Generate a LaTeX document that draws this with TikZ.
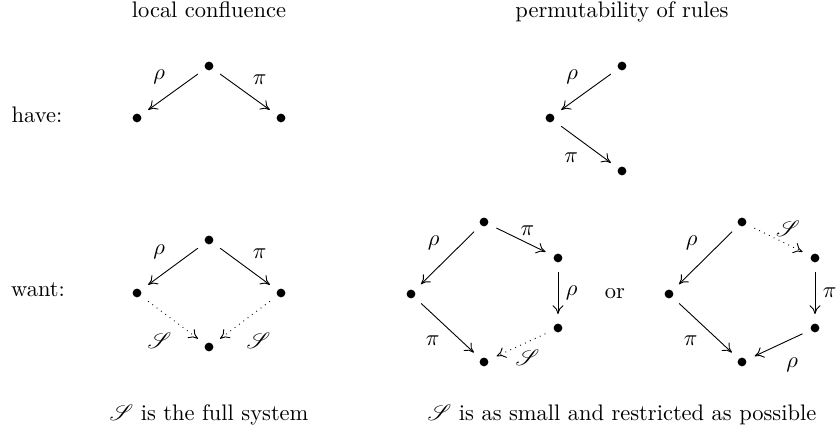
\documentclass[tikz,border=0pt]{standalone}
\usepackage{mathrsfs}
\usetikzlibrary{arrows.meta}

\tikzset{dot/.style={circle,fill=black,inner sep=0pt,minimum size=3.9pt},
  rule/.style={-{To[length=4pt,width=5pt]},shorten <=4pt,shorten >=4pt},
  sys/.style={rule,dotted}}

\begin{document}
\begin{tikzpicture}[x=0.445pt,y=-0.445pt]
\useasboundingbox (0,0) rectangle (836,432);

% headings
\node[anchor=base] (hLC) at (209,18) {local confluence};
\node[anchor=base] (hPR) at (622,18) {permutability of rules};
\node[anchor=base] (have) at (37,123) {have:};
\node[anchor=base] (want) at (38,297) {want:};

% have: local confluence
\node[dot] (a0) at (209,66) {};
\node[dot] (a1) at (137,118) {};
\node[dot] (a2) at (281,118) {};
\draw[rule] (a0) -- node[above left] {$\rho$} (a1);
\draw[rule] (a0) -- node[above right] {$\pi$} (a2);

% have: permutability
\node[dot] (b0) at (622,66) {};
\node[dot] (b1) at (550,118) {};
\node[dot] (b2) at (622,171) {};
\draw[rule] (b0) -- node[above left] {$\rho$} (b1);
\draw[rule] (b1) -- node[below left] {$\pi$} (b2);

% want: local confluence
\node[dot] (c0) at (209,240) {};
\node[dot] (c1) at (137,293) {};
\node[dot] (c2) at (281,293) {};
\node[dot] (c3) at (209,347) {};
\draw[rule] (c0) -- node[above left] {$\rho$} (c1);
\draw[rule] (c0) -- node[above right] {$\pi$} (c2);
\draw[sys] (c1) -- node[below left,pos=0.6] {$\mathscr{S}$} (c3);
\draw[sys] (c2) -- node[below right,pos=0.6] {$\mathscr{S}$} (c3);

% want: permutability, first
\node[dot] (d0) at (484,222) {};
\node[dot] (d1) at (411,294) {};
\node[dot] (d2) at (558,258) {};
\node[dot] (d3) at (558,328) {};
\node[dot] (d4) at (484,362) {};
\draw[rule] (d0) -- node[above left] {$\rho$} (d1);
\draw[rule] (d0) -- node[above,pos=0.6] {$\pi$} (d2);
\draw[rule] (d2) -- node[right] {$\rho$} (d3);
\draw[rule] (d1) -- node[below left] {$\pi$} (d4);
\draw[sys] (d3) -- node[below,pos=0.4] {$\mathscr{S}$} (d4);

\node[anchor=base] (or) at (615,299) {or};

% want: permutability, second
\node[dot] (e0) at (742,222) {};
\node[dot] (e1) at (669,294) {};
\node[dot] (e2) at (815,258) {};
\node[dot] (e3) at (815,328) {};
\node[dot] (e4) at (742,362) {};
\draw[rule] (e0) -- node[above left] {$\rho$} (e1);
\draw[sys] (e0) -- node[above,pos=0.65] {$\mathscr{S}$} (e2);
\draw[rule] (e2) -- node[right] {$\pi$} (e3);
\draw[rule] (e1) -- node[below left] {$\pi$} (e4);
\draw[rule] (e3) -- node[below right,yshift=-2pt] {$\rho$} (e4);

% captions
\node[anchor=base] (capL) at (209,421) {$\mathscr{S}$ is the full system};
\node[anchor=base] (capR) at (622,421) {$\mathscr{S}$ is as small and restricted as possible};
\end{tikzpicture}
\end{document}
